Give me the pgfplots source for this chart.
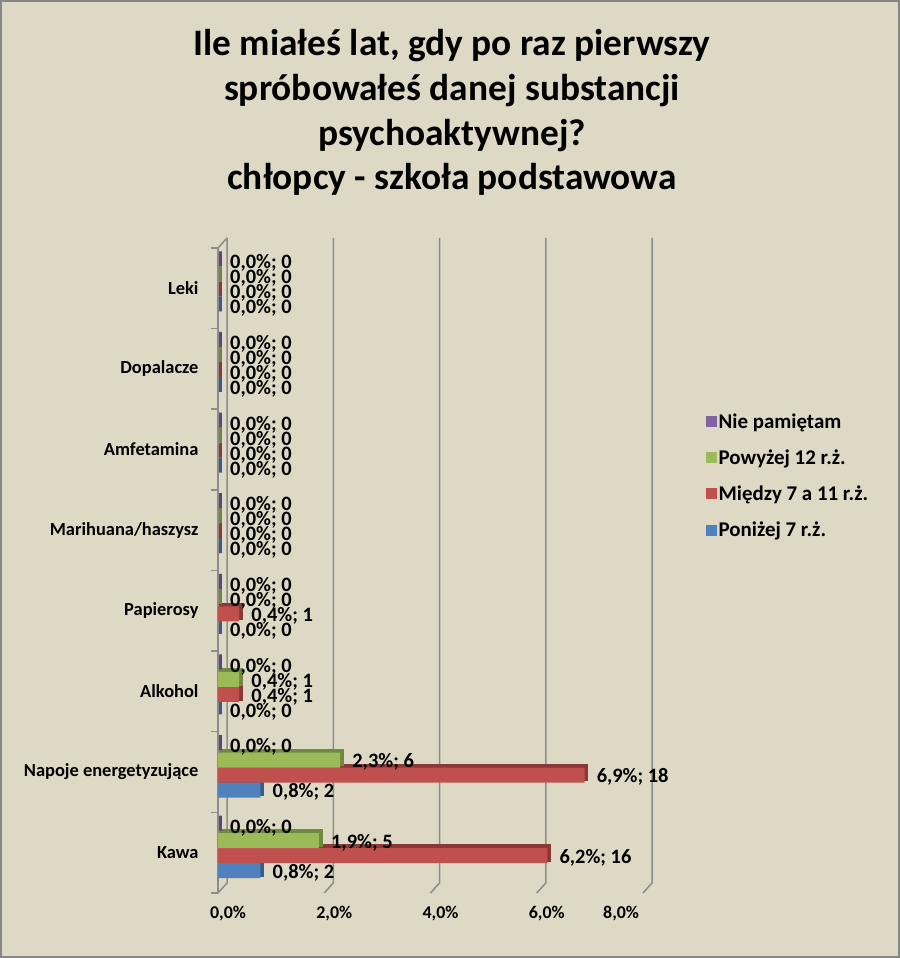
\documentclass[border=0pt]{standalone}
\usepackage{pgfplots}
\pgfplotsset{compat=1.18}
\usepackage{pgfplotstable}
\usetikzlibrary{backgrounds}
\usepackage{fontspec}
\setmainfont{Carlito}
\definecolor{bg}{HTML}{DDD9C4}
\definecolor{borderc}{HTML}{868686}
\definecolor{gridc}{HTML}{8C8C8C}
\definecolor{blueC}{HTML}{4F81BD}
\definecolor{blueD}{HTML}{385D8A}
\definecolor{redC}{HTML}{C0504D}
\definecolor{redD}{HTML}{8C3836}
\definecolor{greenC}{HTML}{9BBB59}
\definecolor{greenD}{HTML}{71893F}
\definecolor{purpleC}{HTML}{8064A2}
\definecolor{purpleD}{HTML}{5C4776}
% c: 0 Kawa, 1 Napoje, 2 Alkohol, 3 Papierosy, 4 Marihuana, 5 Amfetamina, 6 Dopalacze, 7 Leki
\pgfplotstableread{
c v n
0 0.8 2
1 0.8 2
2 0.0 0
3 0.0 0
4 0.0 0
5 0.0 0
6 0.0 0
7 0.0 0
}\tblue
\pgfplotstableread{
c v n
0 6.2 16
1 6.9 18
2 0.4 1
3 0.4 1
4 0.0 0
5 0.0 0
6 0.0 0
7 0.0 0
}\tred
\pgfplotstableread{
c v n
0 1.9 5
1 2.3 6
2 0.4 1
3 0.0 0
4 0.0 0
5 0.0 0
6 0.0 0
7 0.0 0
}\tgreen
\pgfplotstableread{
c v n
0 0.0 0
1 0.0 0
2 0.0 0
3 0.0 0
4 0.0 0
5 0.0 0
6 0.0 0
7 0.0 0
}\tpurple
\pgfplotsset{
  shadowbar/.style={xbar, bar width=15bp, bar shift=#1, xshift=2.5bp, yshift=2.5bp, forget plot, line width=2.6bp},
  frontbar/.style={xbar, bar width=15bp, bar shift=#1, draw=none,
    point meta=x,
    visualization depends on={\thisrow{n} \as \cnt},
    nodes near coords={\pgfmathprintnumber[fixed,fixed zerofill,precision=1,use comma]{\pgfplotspointmeta}\%;\ \pgfmathprintnumber[fixed,precision=0]{\cnt}},
    every node near coord/.append style={anchor=west, inner sep=1bp, xshift=11bp, yshift=#1, yshift=-2bp,
      font=\fontsize{20.5}{20.5}\selectfont\bfseries, text=black}},
}
\begin{document}
\begin{tikzpicture}
\begin{axis}[
  name=ax,
  width=425bp, height=645bp, scale only axis,
  xmin=0, xmax=8, ymin=-0.5, ymax=7.5,
  clip=false,
  /pgf/number format/assume math mode=true,
  axis lines*=left,
  x axis line style={draw=none},
  y axis line style={gridc, line width=1.5bp},
  xtick={0,2,4,6,7.4},
  xticklabels={{0,0\%},{2,0\%},{4,0\%},{6,0\%},{8,0\%}},
  xticklabel style={font=\fontsize{18}{18}\selectfont\bfseries, xshift=10bp, yshift=-10bp},
  ytick={0,...,7},
  yticklabels={Kawa,Napoje energetyzujące,Alkohol,Papierosy,Marihuana/haszysz,Amfetamina,Dopalacze,Leki},
  yticklabel style={font=\fontsize{18.5}{18.5}\selectfont\bfseries, xshift=-16bp},
  minor ytick={-0.5,0.5,...,7.5},
  major tick length=0pt,
  minor tick length=7bp,
  tick align=outside,
  minor tick style={gridc, line width=1.5bp},
  legend style={at={(1.147,0.747)}, anchor=north west, draw=none, fill=none,
    font=\fontsize{21}{21}\selectfont\bfseries, row sep=16bp, inner sep=0pt},
  legend cell align=left,
  reverse legend,
  legend image code/.code={\fill[#1,draw=none] (0bp,-5.5bp) rectangle (11bp,5.5bp);},
]
\addplot[shadowbar=-18bp, fill=blueD, draw=blueD] table[x=v,y=c]{\tblue};
\addplot[frontbar=-18bp, fill=blueC] table[x=v,y=c]{\tblue};
\addlegendentry{Poniżej 7 r.ż.}
\addplot[shadowbar=-3bp, fill=redD, draw=redD] table[x=v,y=c]{\tred};
\addplot[frontbar=-3bp, fill=redC] table[x=v,y=c]{\tred};
\addlegendentry{Między 7 a 11 r.ż.}
\addplot[shadowbar=12bp, fill=greenD, draw=greenD] table[x=v,y=c]{\tgreen};
\addplot[frontbar=12bp, fill=greenC] table[x=v,y=c]{\tgreen};
\addlegendentry{Powyżej 12 r.ż.}
\addplot[shadowbar=27bp, fill=purpleD, draw=purpleD] table[x=v,y=c]{\tpurple};
\addplot[frontbar=27bp, fill=purpleC] table[x=v,y=c]{\tpurple};
\addlegendentry{Nie pamiętam}
\coordinate (O) at (axis cs:0,-0.5);
\end{axis}
\begin{scope}[on background layer]
\fill[bg] ([shift={(-218bp,-65bp)}]O) rectangle ([shift={(682bp,893bp)}]O);
\draw[borderc, line width=2.5bp] ([shift={(-216.75bp,-63.75bp)}]O) rectangle ([shift={(680.75bp,891.75bp)}]O);
\foreach \gx in {0,106.25,212.5,318.75,425} {
  \draw[gridc, line width=1.5bp] ([shift={(\gx bp,0bp)}]O) -- ([shift={(\gx bp+9bp,10bp)}]O) -- ([shift={(\gx bp+9bp,655bp)}]O);
}
\draw[gridc, line width=1.5bp] ([shift={(0bp,645bp)}]O) -- ([shift={(9bp,655bp)}]O);
\end{scope}
\node[font=\fontsize{37.5}{45}\selectfont\bfseries, align=center] at ([shift={(234bp,780.5bp)}]O)
  {Ile miałeś lat, gdy po raz pierwszy\\spróbowałeś danej substancji\\psychoaktywnej?\\chłopcy - szkoła podstawowa};
\end{tikzpicture}
\end{document}
